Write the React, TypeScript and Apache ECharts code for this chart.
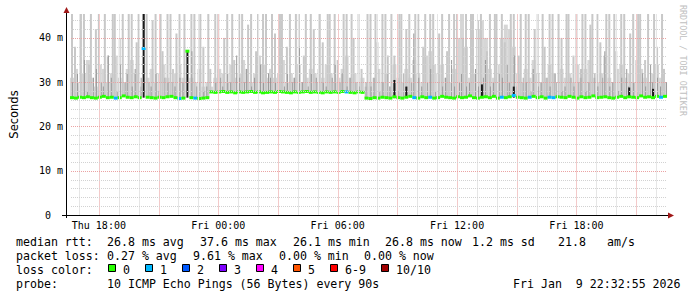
import React, { useEffect, useRef } from "react";
import * as echarts from "echarts";

// x axis in minutes since Thu 00:00; each column is 12 minutes (4 px)
const START = 993; // Thu 16:33
const END = 2793; // Fri 22:33
const STEP = 12;
const YMAX = 45.4;

const tickValues = [1080, 1440, 1800, 2160, 2520];
const tickLabels = ["Thu 18:00", "Fri 00:00", "Fri 06:00", "Fri 12:00", "Fri 18:00"];
const yTicks = [0, 10, 20, 30, 40];

// median rtt per column (ms)
const med = [
  26.5, 26.4, 26.6, 26.5, 26.7, 26.5, 26.4, 26.6, 26.8, 26.5,
  26.6, 26.4, 26.5, 26.9, 26.6, 26.5, 26.7, 26.5, 37.6, 26.6,
  26.5, 26.4, 26.6, 26.5, 26.7, 26.8, 26.5, 26.3, 26.4, 37.0,
  26.5, 26.4, 26.3, 26.4, 26.5,
  27.8, 27.7, 27.8, 27.9, 27.7, 27.8, 27.6, 27.8, 27.7, 27.8,
  27.9, 27.7, 27.8, 27.6, 27.7, 27.8, 27.7, 27.9, 27.8, 27.7,
  27.6, 27.8, 27.7, 27.8, 27.9, 27.7, 27.8, 27.7, 27.6, 27.8,
  27.7, 27.8, 27.7, 27.9, 27.8, 27.7, 27.6, 27.8, 27.7,
  26.4, 26.3, 26.5, 26.4, 26.6, 26.5, 26.4, 26.7, 26.5, 26.4,
  26.6, 26.8, 26.5, 26.4, 26.7, 26.5, 26.6, 26.4, 26.5, 26.8,
  26.6, 26.5, 26.4, 26.7, 26.5, 26.6, 26.9, 26.5, 26.4, 26.6,
  26.7, 26.5, 26.8, 26.4, 26.6, 26.5, 26.7, 27.0, 26.6, 26.5,
  26.4, 26.6, 26.8, 26.5, 26.7, 26.4, 26.6, 26.5, 26.7, 26.6,
  26.5, 26.8, 26.6, 26.4, 26.7, 26.5, 26.6, 26.9, 26.5, 26.6,
  26.7, 26.5, 26.4, 26.6, 26.8, 26.5, 26.7, 26.6, 26.5, 26.9,
  26.6, 26.7, 26.5, 26.8, 26.6, 26.8,
];

// broad light smoke top (ms)
const smokeLo = [
  31, 33, 30, 32, 35, 31, 29, 34, 33, 30, 32, 36, 31, 30, 33, 35, 32, 29, 34, 31, 33, 30, 32, 34, 31,
  30, 32, 34, 31, 29, 31, 30, 33, 29, 30, 29, 31, 33, 32, 30, 34, 31, 32, 35, 33, 30, 32, 36, 34, 31,
  33, 31, 32, 35, 30, 32, 31, 34, 30, 31, 33, 32, 30, 31, 34, 32, 30, 31, 33, 36, 31, 32, 30, 31, 29,
  30, 31, 33, 30, 32, 29, 34, 31, 30, 33, 31, 35, 32, 30, 36, 37, 34, 32, 34, 31, 30, 33, 40, 45.4, 38,
  31, 32, 42, 44, 40, 33, 31, 34, 40, 43, 42, 38, 32, 30, 33, 31, 35, 32, 30, 31, 34, 32, 30, 33, 31,
  32, 30, 34, 31, 33, 35, 31, 30, 32, 36, 31, 30, 33, 34, 31, 32, 30, 35, 33, 31, 30, 32, 34, 31, 30,
];

// thin light smoke spike top (ms); 45.4 = clipped at top
const smokeHi = [
  45.4, 38, 45.4, 45.4, 34, 45.4, 42, 45.4, 45.4, 36, 45.4, 45.4, 40, 45.4, 45.4, 45.4, 39, 45.4, 45.4, 45.4, 44, 45.4, 45.4, 37, 45.4,
  45.4, 41, 45.4, 45.4, 36, 45.4, 45.4, 45.4, 38, 45.4, 33, 45.4, 45.4, 40, 45.4, 45.4, 35, 45.4, 45.4, 43, 45.4, 37, 45.4, 45.4, 45.4,
  45.4, 41, 45.4, 45.4, 38, 45.4, 45.4, 45.4, 36, 45.4, 45.4, 42, 45.4, 39, 45.4, 45.4, 45.4, 35, 45.4, 45.4, 45.4, 40, 45.4, 33, 45.4,
  45.4, 45.4, 39, 45.4, 45.4, 45.4, 36, 45.4, 45.4, 42, 45.4, 45.4, 45.4, 38, 45.4, 45.4, 45.4, 41, 45.4, 37, 45.4, 45.4, 45.4, 40, 45.4,
  45.4, 45.4, 44, 45.4, 37, 45.4, 45.4, 45.4, 45.4, 39, 45.4, 45.4, 36, 45.4, 45.4, 45.4, 42, 45.4, 45.4, 38, 45.4, 45.4, 45.4, 40, 45.4,
  45.4, 36, 45.4, 45.4, 45.4, 43, 45.4, 45.4, 39, 45.4, 45.4, 45.4, 37, 45.4, 45.4, 41, 45.4, 45.4, 45.4, 35, 45.4, 45.4, 38, 45.4, 33,
];

// darker smoke spike top (ms)
const smokeDk = [
  30, 32, 29, 35, 28, 31, 33, 30, 29, 36, 31, 28, 34, 30, 32, 29, 33, 31, 45.4, 30, 29, 32, 28, 31, 30,
  33, 29, 31, 30, 28, 37, 29, 30, 28, 29, 28, 30, 31, 29, 32, 30, 36, 31, 30, 33, 29, 31, 34, 30, 32,
  31, 30, 35, 29, 32, 30, 31, 38, 30, 29, 32, 31, 33, 30, 29, 31, 34, 30, 32, 29, 31, 30, 29, 28, 30,
  29, 31, 28, 30, 36, 29, 30, 28, 32, 29, 30, 41, 31, 29, 30, 33, 28, 30, 29, 31, 35, 29, 30, 32, 29,
  30, 33, 29, 31, 35, 29, 30, 32, 31, 34, 30, 36, 29, 31, 30, 28, 33, 29, 30, 31, 29, 32, 30, 28, 29,
  31, 29, 30, 33, 28, 30, 32, 29, 31, 37, 29, 30, 28, 31, 33, 29, 30, 28, 32, 29, 34, 30, 31, 29, 30,
];

// dense (black) smoke: [column, bottom ms, top ms]
const blackSmoke = [
  [18, 26.5, 45.4], [29, 26.5, 37.0], [81, 26.4, 30.5], [84, 26.5, 29.0],
  [103, 26.5, 29.5], [111, 26.5, 29.0], [140, 26.6, 28.8], [146, 26.6, 28.5],
];

// columns where 1 of 10 pings was lost
const loss1Cols = [11, 18, 27, 31, 69, 86, 90, 108, 111, 115, 120, 121, 148];

const lossColors = ["#26ff00", "#00b8ff", "#0059ff", "#7e00ff", "#ff00ff", "#ff5500", "#ff0000", "#a00000"];
const lossLabels = ["0", "1", "2", "3", "4", "5", "6-9", "10/10"];
const lossBoxX = [108.5, 145.5, 182.5, 219.5, 256.5, 293.5, 330.5, 381.5];

const rttStats = ["median rtt:", "26.8 ms avg", "37.6 ms max", "26.1 ms min", "26.8 ms now", "1.2 ms sd", "21.8", "am/s"];
const rttX = [16, 107, 200, 293, 385, 472, 558, 607];
const lossStats = ["packet loss:", "0.27 % avg", "9.61 % max", "0.00 % min", "0.00 % now"];
const lossX = [16, 107, 193, 279, 364];
const probeTexts = ["probe:", "10 ICMP Echo Pings (56 Bytes) every 90s", "Fri Jan  9 22:32:55 2026"];
const probeX = [16, 107, 513];

const MONO = '"DejaVu Sans Mono", monospace';
const LFONT = `11.6px ${MONO}`;
const SPIKE_OFFSET = [1, 0, 2, 1, 2, 0];
const MINOR = "#d2d2d2";
const MAJOR = "#eba3a3";
const MINOR_V = "#e6e6e6";
const MAJOR_V = "#f3caca";

export default function App() {
  const ref = useRef<HTMLDivElement>(null);
  useEffect(() => {
    if (!ref.current) return;
    const chart = echarts.init(ref.current, null, { renderer: "svg" });

    const smokeData = med.map((m, i) => [START + i * STEP, m, smokeLo[i], smokeHi[i], smokeDk[i], i]);
    const lossSet = new Set(loss1Cols);
    const medData = med.map((m, i) => [START + i * STEP, m, lossSet.has(i) ? 1 : 0]);
    const blackData = blackSmoke.map((b) => [START + b[0] * STEP, b[1], b[2]]);

    // grid lines: [x value, y value, 0 = vertical / 1 = horizontal, 1 = major]
    const gridData: number[][] = [];
    for (let t = 1020; t < END; t += 60) gridData.push([t, 0, 0, t % 180 === 0 ? 1 : 0]);
    for (let v = 2; v <= 44; v += 2) gridData.push([START, v, 1, v % 10 === 0 ? 1 : 0]);

    const graphic: any[] = [];
    // axis lines and arrows
    graphic.push({ type: "rect", z: 100, shape: { x: 62, y: 215, width: 607, height: 1 }, style: { fill: "#000" } });
    graphic.push({ type: "rect", z: 100, shape: { x: 66, y: 12, width: 1, height: 206 }, style: { fill: "#000" } });
    graphic.push({ type: "polygon", z: 100, shape: { points: [[63.5, 13], [69.5, 13], [66.5, 7]] }, style: { fill: "#a01818" } });
    graphic.push({ type: "polygon", z: 100, shape: { points: [[668, 212.5], [668, 218.5], [674, 215.5]] }, style: { fill: "#a01818" } });
    // watermark
    graphic.push({
      type: "text", x: 683, y: 5, rotation: -Math.PI / 2,
      style: { text: "RRDTOOL / TOBI OETIKER", font: `8.4px ${MONO}`, fill: "#c0c0c0", verticalAlign: "middle", align: "left" },
    });
    const addText = (t: string, x: number, y: number) =>
      graphic.push({ type: "text", x, y, style: { text: t, font: LFONT, fill: "#000", verticalAlign: "middle", align: "left" } });
    rttStats.forEach((t, i) => addText(t, rttX[i], 241.5));
    lossStats.forEach((t, i) => addText(t, lossX[i], 255.5));
    addText("loss color:", 16, 269.5);
    lossLabels.forEach((t, i) => {
      graphic.push({ type: "rect", shape: { x: lossBoxX[i], y: 264.5, width: 7, height: 7 }, style: { fill: lossColors[i], stroke: "#000", lineWidth: 1 } });
      addText(t, lossBoxX[i] + 14.5, 269.5);
    });
    probeTexts.forEach((t, i) => addText(t, probeX[i], 283.5));

    chart.setOption({
      animation: false,
      backgroundColor: "#ffffff",
      grid: { left: 67, right: 30, top: 14, bottom: 82, containLabel: false },
      xAxis: {
        type: "value", min: START, max: END,
        axisLine: { show: false },
        axisTick: { show: false },
        splitLine: { show: false },
        axisLabel: {
          customValues: tickValues,
          formatter: (v: number) => { const k = tickValues.indexOf(v); return k >= 0 ? tickLabels[k] : ""; },
          fontFamily: "DejaVu Sans Mono", fontSize: 10, color: "#000", margin: 5,
        },
      },
      yAxis: {
        type: "value", min: 0, max: YMAX, interval: 10,
        name: "Seconds", nameLocation: "middle", nameGap: 50, nameRotate: 90,
        nameTextStyle: { fontFamily: "DejaVu Sans", fontSize: 11.5, color: "#000" },
        axisLine: { show: false },
        axisTick: { show: false },
        splitLine: { show: false },
        axisLabel: {
          showMaxLabel: false,
          formatter: (v: number) => (v === 0 ? "0\u00a0\u00a0" : yTicks.includes(v) ? `${v} m` : ""),
          fontFamily: "DejaVu Sans Mono", fontSize: 10, color: "#000", margin: 7,
        },
      },
      series: [
        {
          type: "custom", name: "smoke", data: smokeData, encode: { x: 0, y: 1 }, z: 2, silent: true,
          renderItem: (params: any, api: any) => {
            const x0 = api.value(0), m = api.value(1), lo = api.value(2), hi = api.value(3), dk = api.value(4);
            const off = SPIKE_OFFSET[api.value(5) % SPIKE_OFFSET.length];
            const base = api.coord([x0, m]);
            const w = api.size([STEP, 0])[0];
            const ch: any[] = [];
            if (lo > m) { const y = api.coord([x0, lo])[1]; ch.push({ type: "rect", shape: { x: base[0], y, width: w, height: base[1] - y }, style: { fill: "#d6d6d6" } }); }
            if (hi > m) { const y = api.coord([x0, hi])[1]; ch.push({ type: "rect", shape: { x: base[0] + off, y, width: 2, height: base[1] - y }, style: { fill: "#c8c8c8" } }); }
            if (dk > m) { const y = api.coord([x0, dk])[1]; ch.push({ type: "rect", shape: { x: base[0] + 3 - off, y, width: 1, height: base[1] - y }, style: { fill: "#999999" } }); }
            return { type: "group", children: ch };
          },
        },
        {
          type: "custom", name: "dense", data: blackData, encode: { x: 0, y: 2 }, z: 3, silent: true,
          renderItem: (params: any, api: any) => {
            const x0 = api.value(0);
            const b = api.coord([x0, api.value(1)]);
            const t = api.coord([x0, api.value(2)]);
            return { type: "rect", shape: { x: b[0] + 1, y: t[1], width: 2, height: b[1] - t[1] }, style: { fill: "#1a1a1a" } };
          },
        },
        {
          type: "custom", name: "median", data: medData, encode: { x: 0, y: 1 }, z: 4, silent: true,
          renderItem: (params: any, api: any) => {
            const p = api.coord([api.value(0), api.value(1)]);
            const w = api.size([STEP, 0])[0];
            return { type: "rect", shape: { x: p[0], y: p[1] - 1.5, width: w, height: 3 }, style: { fill: lossColors[api.value(2)] } };
          },
        },
        {
          type: "custom", name: "grid", data: gridData, encode: { x: 0, y: 1 }, z: 5, silent: true,
          renderItem: (params: any, api: any) => {
            const cs = params.coordSys;
            const p = api.coord([api.value(0), api.value(1)]);
            const major = api.value(3) === 1;
            if (api.value(2) === 0) {
              const x = Math.round(p[0]);
              return { type: "rect", shape: { x, y: cs.y, width: 1, height: cs.height }, style: { fill: major ? MAJOR_V : MINOR_V } };
            }
            const y = Math.round(p[1]) + 0.5;
            return { type: "line", shape: { x1: cs.x + 1, y1: y, x2: cs.x + cs.width, y2: y }, style: { stroke: major ? MAJOR : MINOR, lineWidth: 1, lineDash: [1, 1] } };
          },
        },
      ],
      graphic,
    });
    return () => chart.dispose();
  }, []);
  return <div ref={ref} style={{ position: "fixed", left: 0, top: 0, width: 697, height: 297 }} />;
}
